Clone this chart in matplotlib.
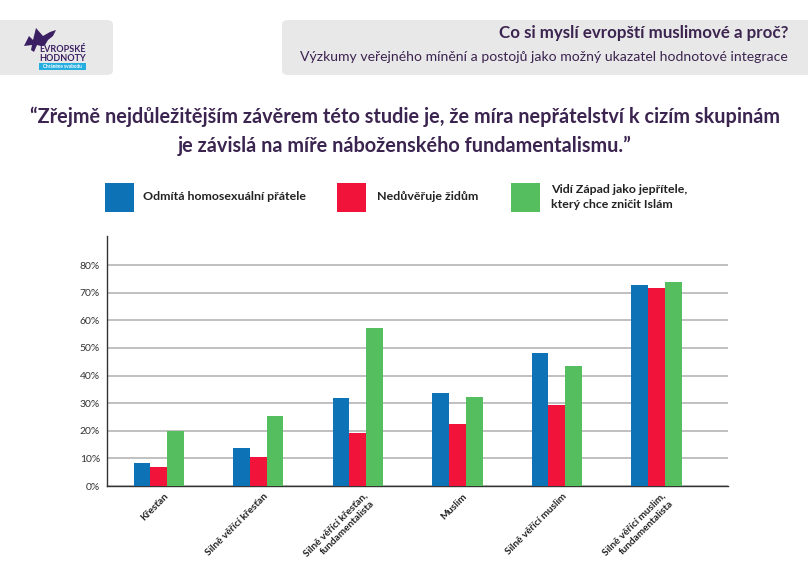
import matplotlib
matplotlib.use("Agg")
import matplotlib.pyplot as plt
import numpy as np
from matplotlib.patches import FancyBboxPatch, Rectangle, Polygon
from matplotlib.ticker import PercentFormatter
from matplotlib.transforms import ScaledTranslation

categories = ["Křesťan", "Silně věřící křesťan", "Silně věřící křesťan,\nfundamentalista",
              "Muslim", "Silně věřící muslim", "Silně věřící muslim,\nfundamentalista"]
series_names = ["Odmítá homosexuální přátele", "Nedůvěřuje židům",
                "Vidí Západ jako jepřítele,\nkterý chce zničit Islám"]
homosexual = [8.2, 13.8, 31.9, 33.7, 48.1, 72.9]
jews = [6.8, 10.6, 19.3, 22.3, 29.5, 71.7]
west = [20.0, 25.4, 57.1, 32.1, 43.4, 73.8]
y_ticks = [0, 10, 20, 30, 40, 50, 60, 70, 80]

colors = ["#0d72b6", "#f2133b", "#55bf5f"]
purple = "#3b2450"
FAM = ["Lato", "DejaVu Sans"]
plt.rcParams['font.family'] = FAM

W, H = 808, 566
fig = plt.figure(figsize=(W / 100, H / 100), dpi=100)

def fx(px):
    return px / W

def fy(py):
    return 1 - py / H

# header boxes
fig.patches.append(FancyBboxPatch((fx(-10), fy(75)), fx(123), 55 / H,
                                  boxstyle="round,pad=0,rounding_size=0.008",
                                  transform=fig.transFigure, fc="#e9e8e8", ec="none"))
fig.patches.append(FancyBboxPatch((fx(282), fy(75)), fx(540), 55 / H,
                                  boxstyle="round,pad=0,rounding_size=0.008",
                                  transform=fig.transFigure, fc="#e9e8e8", ec="none"))
fig.text(fx(788), fy(33), "Co si myslí evropští muslimové a proč?", ha="right", va="center",
         fontsize=12.2, fontweight="bold", color=purple)
fig.text(fx(788), fy(57), "Výzkumy veřejného mínění a postojů jako možný ukazatel hodnotové integrace",
         ha="right", va="center", fontsize=10.1, color=purple)

# logo (decorative)
peg = [(24, 46), (29, 36), (33, 40), (36, 28), (43, 36), (50, 32), (56, 30), (53, 36),
       (48, 40), (45, 45), (41, 46), (37, 45), (34, 52), (31, 50), (32, 45)]
fig.patches.append(Polygon([(fx(a), fy(b)) for a, b in peg], closed=True,
                           transform=fig.transFigure, fc="#3a2062", ec="none"))
fig.text(fx(39), fy(49), "EVROPSKÉ", ha="left", va="center", fontsize=6.5,
         fontweight="bold", color="#3a2062")
fig.text(fx(39), fy(58), "HODNOTY", ha="left", va="center", fontsize=6.5,
         fontweight="bold", color="#3a2062")
fig.patches.append(Rectangle((fx(39), fy(70)), fx(47), 7 / H, transform=fig.transFigure,
                             fc="#27aee0", ec="none"))
fig.text(fx(62.5), fy(66.5), "Chráníme svobodu", ha="center", va="center", fontsize=3.4,
         fontweight="bold", color="white")

# title
fig.text(fx(405), fy(117), "“Zřejmě nejdůležitějším závěrem této studie je, že míra nepřátelství k cizím skupinám",
         ha="center", va="center", fontsize=14.3, fontweight="bold", color=purple)
fig.text(fx(405), fy(146), "je závislá na míře náboženského fundamentalismu.”",
         ha="center", va="center", fontsize=14.3, fontweight="bold", color=purple)

# legend
sq_x = [105, 337, 511]
txt_x = [143, 377, 551]
for i in range(3):
    fig.patches.append(Rectangle((fx(sq_x[i]), fy(212)), fx(29), 29 / H,
                                 transform=fig.transFigure, fc=colors[i], ec="none"))
    fig.text(fx(txt_x[i]), fy(197), series_names[i], ha="left", va="center",
             fontsize=8.9, fontweight="bold", color="#222222", linespacing=1.55)

# axes
ax = fig.add_axes([fx(107), fy(486), fx(728 - 107), (486 - 236) / H])
x = np.arange(len(categories))
bw = 0.169
for i, vals in enumerate([homosexual, jews, west]):
    ax.bar(x + (i - 1) * bw, vals, width=bw, color=colors[i], zorder=3)

ax.set_xlim(-0.52, 5.72)
ax.set_ylim(0, 90.5)
ax.set_yticks(y_ticks)
ax.yaxis.set_major_formatter(PercentFormatter(decimals=0))
ax.grid(axis="y", color="#b5b5b5", linewidth=1.2, zorder=0)
for s in ["top", "right"]:
    ax.spines[s].set_visible(False)
for s in ["left", "bottom"]:
    ax.spines[s].set_color("#333333")
    ax.spines[s].set_linewidth(1.0)
ax.tick_params(axis="y", length=0, labelsize=7.5, labelcolor="#333333", pad=5)
ax.tick_params(axis="x", length=0, pad=4)
ax.set_xticks(x)
ax.set_xticklabels(categories, rotation=45, ha="right", va="top", rotation_mode="anchor",
                   fontsize=7.2, fontweight="bold", color="#222222", multialignment="right")
offset = ScaledTranslation(5 / 100, 0, fig.dpi_scale_trans)
for lbl in ax.get_xticklabels():
    lbl.set_transform(lbl.get_transform() + offset)

fig.savefig("out.png", dpi=100)
